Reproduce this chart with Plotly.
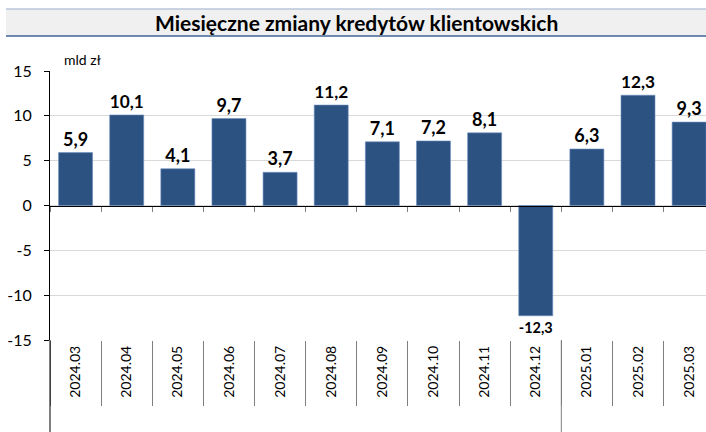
import plotly.graph_objects as go

categories = ["2024.03", "2024.04", "2024.05", "2024.06", "2024.07", "2024.08",
              "2024.09", "2024.10", "2024.11", "2024.12", "2025.01", "2025.02", "2025.03"]
values = [5.9, 10.1, 4.1, 9.7, 3.7, 11.2, 7.1, 7.2, 8.1, -12.3, 6.3, 12.3, 9.3]
y_ticks = [-15, -10, -5, 0, 5, 10, 15]
title_text = "Miesięczne zmiany kredytów klientowskich"
unit_text = "mld zł"

labels = [f"{v:.1f}".replace(".", ",") for v in values]

W, H = 706, 432
ML, MR, MT, MB = 50, 0, 71, 92
PW, PH = W - ML - MR, H - MT - MB

def px_x(p):
    return (p - ML) / PW

def px_y(p):
    return (H - MB - p) / PH

FONT = "Lato"
BAR = "#2C5282"

fig = go.Figure()
fig.add_trace(go.Bar(
    x=categories, y=values, text=labels, textposition="outside",
    textfont=dict(family=FONT, size=18, color="black", weight="bold"),
    marker=dict(color=BAR, line=dict(color="#6F8FBF", width=0.6)),
    cliponaxis=False, hoverinfo="skip", showlegend=False,
))
# invisible helpers providing categories for the separator axes
for ax in ["x2", "x3"]:
    fig.add_trace(go.Scatter(x=categories, y=values, xaxis=ax, mode="markers",
                             marker=dict(opacity=0), hoverinfo="skip", showlegend=False))

xr = [-0.5, 12.33]
fig.update_layout(
    width=W, height=H, margin=dict(l=ML, r=MR, t=MT, b=MB),
    paper_bgcolor="white", plot_bgcolor="white",
    bargap=0.335,
    font=dict(family=FONT, color="black"),
    xaxis=dict(type="category", range=xr, tickangle=-90, ticks="", showline=False,
               showgrid=False, zeroline=False, tickfont=dict(size=14, family=FONT, color="black"),
               ticklabelstandoff=2),
    xaxis2=dict(type="category", range=xr, overlaying="x", anchor="free", position=0, side="bottom",
                ticks="outside", tickson="boundaries", ticklen=65, tickcolor="#7F7F7F", tickwidth=1,
                showticklabels=False, showline=False, showgrid=False, zeroline=False),
    xaxis3=dict(type="category", range=xr, overlaying="x", anchor="free", position=0.5, side="bottom",
                ticks="outside", tickson="boundaries", ticklen=5, tickcolor="#7F7F7F", tickwidth=1,
                showticklabels=False, showline=True, linecolor="black", linewidth=1,
                showgrid=False, zeroline=False),
    yaxis=dict(range=[-15, 15], tickvals=y_ticks, ticktext=[str(v) for v in y_ticks],
               showgrid=True, gridcolor="#D9D9D9", gridwidth=1, zeroline=False,
               showline=True, linecolor="black", linewidth=1,
               ticks="outside", ticklen=5, tickcolor="black",
               tickfont=dict(size=16, family=FONT, color="black"), ticklabelstandoff=9),
)

shapes = [
    # title box
    dict(type="rect", xref="paper", yref="paper", x0=px_x(6), x1=1, y0=px_y(36), y1=px_y(9),
         fillcolor="#F0F0F0", line=dict(width=0), layer="below"),
    dict(type="line", xref="paper", yref="paper", x0=px_x(6), x1=1, y0=px_y(9), y1=px_y(9),
         line=dict(color="#B8C6DA", width=1.5)),
    dict(type="line", xref="paper", yref="paper", x0=px_x(6), x1=1, y0=px_y(36), y1=px_y(36),
         line=dict(color="#3F6497", width=1.5)),
    # left axis extension
    dict(type="line", xref="paper", yref="paper", x0=0, x1=0, y0=-MB / PH, y1=0,
         line=dict(color="black", width=1)),
    # year boundary separator
    dict(type="line", xref="x", yref="paper", x0=9.5, x1=9.5, y0=-MB / PH, y1=0,
         line=dict(color="#7F7F7F", width=1)),
]
fig.update_layout(shapes=shapes)

fig.add_annotation(text=f"<b>{title_text}</b>", xref="paper", yref="paper",
                   x=px_x(356), y=px_y(22.5), showarrow=False,
                   font=dict(family=FONT, size=21, color="black"), xanchor="center", yanchor="middle")
fig.add_annotation(text=unit_text, xref="paper", yref="paper",
                   x=px_x(62), y=px_y(60), showarrow=False,
                   font=dict(family=FONT, size=14, color="black"), xanchor="left", yanchor="middle")

fig.write_html("out.html", config={"displayModeBar": False},
               post_script="document.body.style.margin='0';")
